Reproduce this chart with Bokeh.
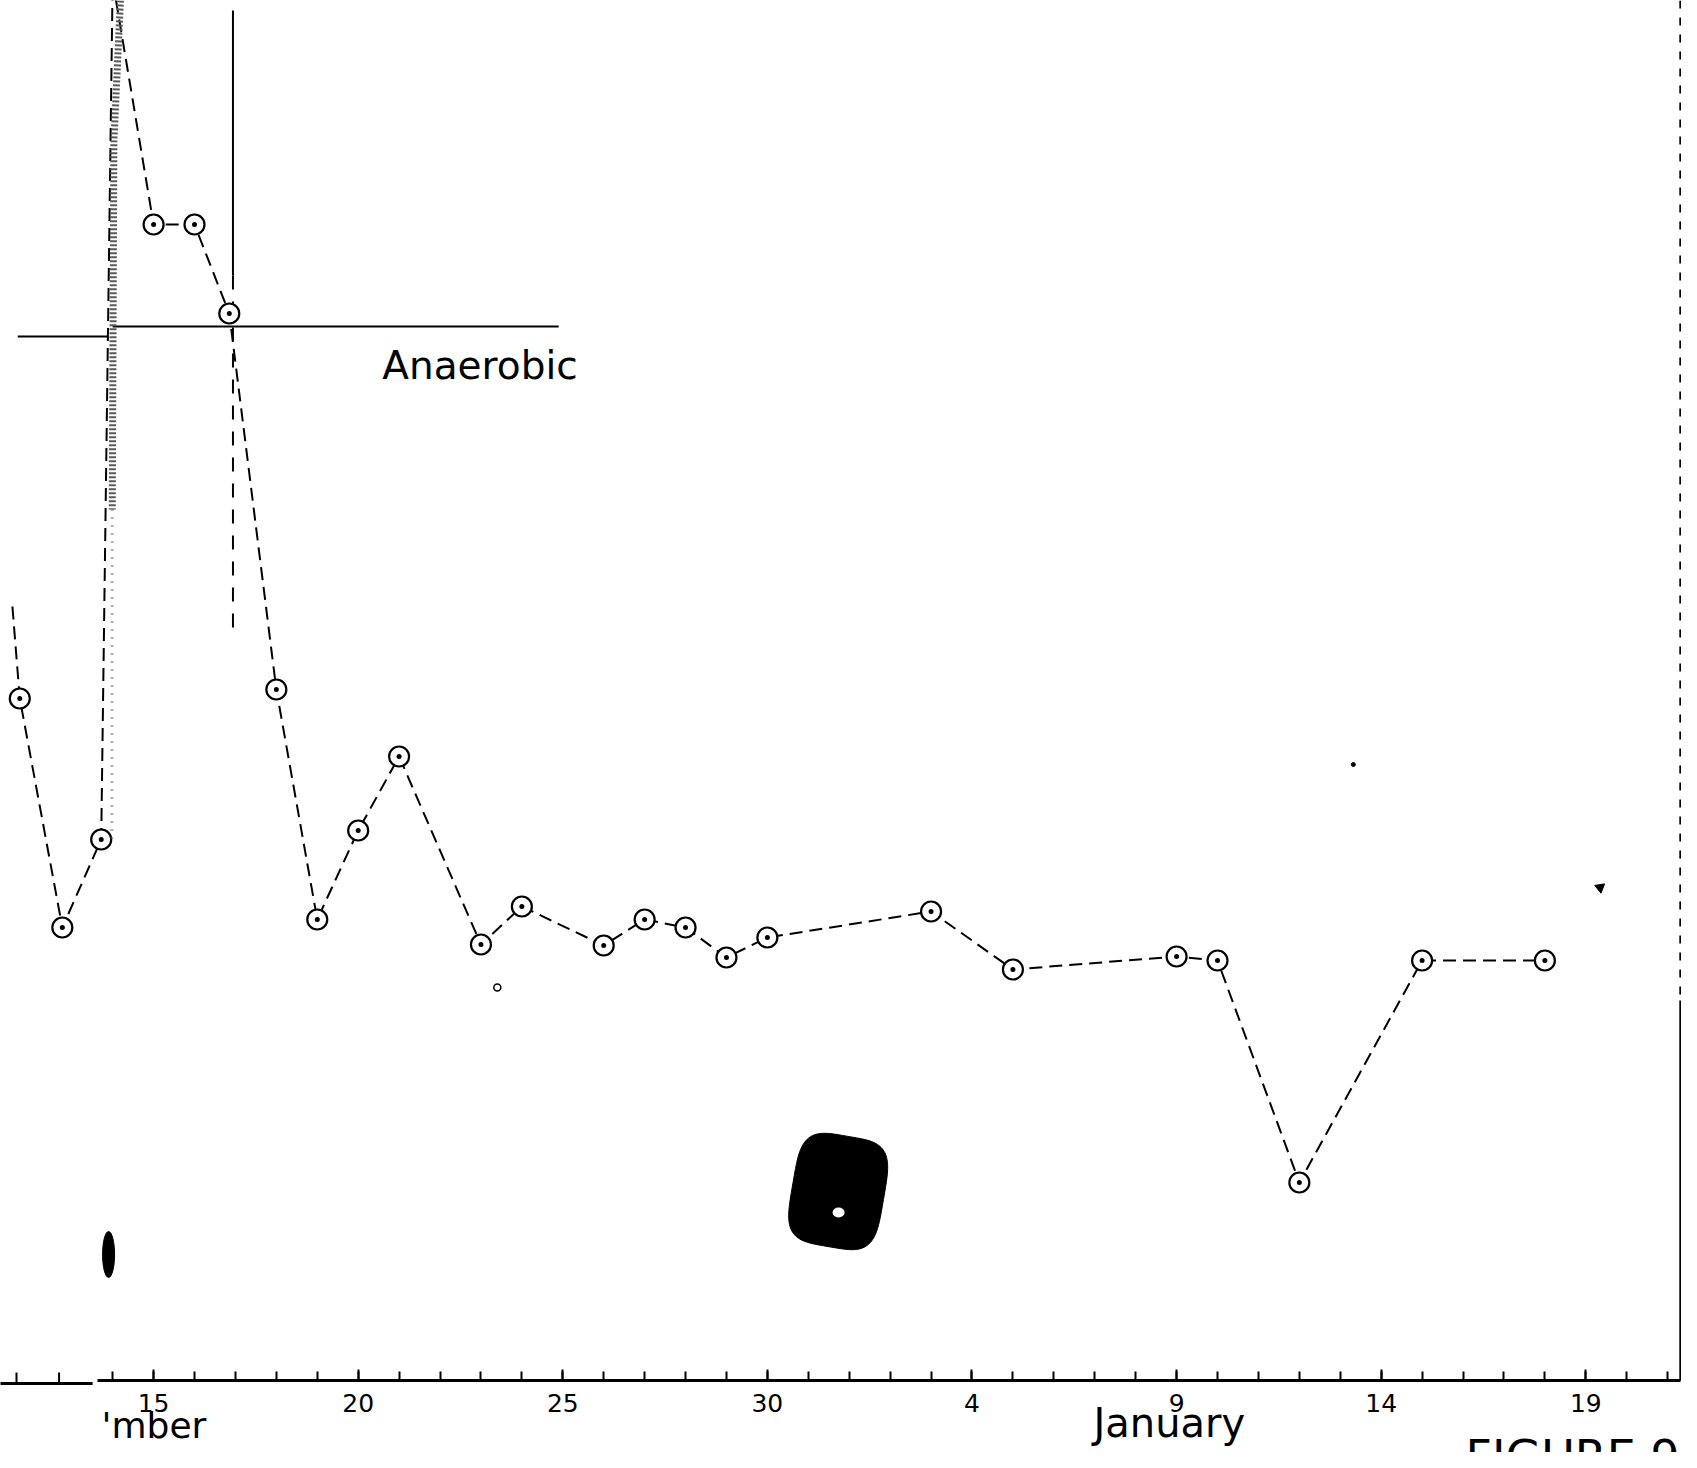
import numpy as np
from bokeh.plotting import figure
from bokeh.models import FixedTicker, Label, Range1d
from bokeh.embed import file_html
from bokeh.resources import INLINE

# ---- data (x: day index, Dec 15 = 15 ... Dec 31 = 31, Jan 1 = 32 ...) ----
series_day = [11.55, 11.73, 12.77, 13.72, 14.0, 15, 16, 16.85, 18, 19, 20, 21, 23, 24,
              26, 27, 28, 29, 30, 34, 36, 40, 41, 43, 46, 49]
series_val = [77.4, 68.2, 45.3, 54.1, 140.0, 115.6, 115.6, 106.7, 69.1, 46.1, 55.0, 62.4,
              43.6, 47.4, 43.5, 46.1, 45.3, 42.3, 44.3, 46.9, 41.1, 42.4, 42.0, 19.8, 42.0, 42.0]
marked = [i for i in range(len(series_day)) if i not in (0, 4)]

tick_days = [15, 20, 25, 30, 35, 40, 45, 50]
tick_labels = ["15", "20", "25", "30", "4", "9", "14", "19"]
minor_days = list(range(14, 53))

anaerobic_day = 16.94
anaerobic_level = [104.4, 105.4]

FONT = "DejaVu Sans"
X0, X1 = 11.259, 52.339
Y0, Y1 = -7.2, 138.0
PX_X = 1681 / (X1 - X0)
PX_Y = 1452 / (Y1 - Y0)

p = figure(width=1681, height=1452, x_range=Range1d(X0, X1), y_range=Range1d(Y0, Y1),
           output_backend="svg", toolbar_location=None, y_axis_location=None,
           min_border_left=0, min_border_right=0, min_border_top=0, min_border_bottom=0,
           outline_line_color=None)
p.grid.visible = False
p.background_fill_color = "white"
p.border_fill_color = "white"

ax = p.xaxis[0]
ax.fixed_location = 0
ax.ticker = FixedTicker(ticks=tick_days, minor_ticks=minor_days)
ax.major_label_overrides = {d: l for d, l in zip(tick_days, tick_labels)}
ax.bounds = (13.64, 52.32)
ax.axis_line_width = 3
ax.axis_line_color = "black"
ax.major_tick_in = 11
ax.major_tick_out = 0
ax.minor_tick_in = 9
ax.minor_tick_out = 0
ax.major_tick_line_width = 2
ax.minor_tick_line_width = 2
ax.major_label_text_font = FONT
ax.major_label_text_font_size = "25px"
ax.major_label_text_color = "black"
ax.major_label_standoff = 13

# left piece of the base line (separate strip)
p.segment(x0=[11.2], y0=[-0.3], x1=[13.51], y1=[-0.3], line_width=3, color="black")
p.segment(x0=[11.65, 12.69], y0=[-0.3, -0.3], x1=[11.65, 12.69], y1=[0.8, 0.8], line_width=2, color="black")

# right border line
p.segment(x0=[52.31], y0=[38], x1=[52.31], y1=[0], line_width=2, color="black")
p.segment(x0=[52.31], y0=[138], x1=[52.31], y1=[38], line_width=2, color="black", line_dash="8 9")

# anaerobic markers
p.segment(x0=[anaerobic_day], y0=[137], x1=[anaerobic_day], y1=[110.5], line_width=2, color="black")
p.segment(x0=[anaerobic_day], y0=[110.5], x1=[anaerobic_day], y1=[74.1], line_width=2,
          color="black", line_dash="14 12")
p.segment(x0=[11.68, 14.0], y0=anaerobic_level, x1=[13.87, 24.9], y1=anaerobic_level,
          line_width=2, color="black")

# series
p.line(series_day, series_val, line_dash="13 7", line_width=2, color="black")
p.scatter([series_day[i] for i in marked], [series_val[i] for i in marked],
          marker="circle_dot", size=20, fill_color="white", line_color="black", line_width=2.2)

# scanned strip edge
p.line([14.19, 14.03, 13.99], [138, 123.9, 87.1], line_width=7, color="#5a5a5a", line_dash="2 2")
p.line([13.99, 13.98], [87.1, 53.6], line_width=3, color="#666666", line_dash="1 7")

# ink blot (rounded, slightly tilted) and small specks on the sheet
t = np.linspace(0, 2 * np.pi, 120)
bx = 46 * np.sign(np.cos(t)) * np.abs(np.cos(t)) ** 0.5
by = 56 * np.sign(np.sin(t)) * np.abs(np.sin(t)) ** 0.5
th = -0.17
rx = bx * np.cos(th) - by * np.sin(th)
ry = bx * np.sin(th) + by * np.cos(th)
p.patch(31.73 + rx / PX_X, 18.9 + ry / PX_Y, fill_color="black", line_color="black")
p.ellipse(x=[31.74], y=[16.8], width=[12], height=[10], width_units="screen",
          height_units="screen", fill_color="white", line_color=None)
p.ellipse(x=[13.90], y=[12.6], width=[12], height=[46], width_units="screen",
          height_units="screen", fill_color="black", line_color="black")
p.scatter([23.4], [39.3], marker="circle", size=7, fill_color="white", line_color="black", line_width=1.5)
p.scatter([44.32], [61.6], marker="circle", size=4, color="black")
p.scatter([50.35], [49.3], marker="triangle", size=10, angle=1.2, color="black")

# texts
p.add_layout(Label(x=20.59, y=101.5, text="Anaerobic", text_font=FONT, text_font_size="39px",
                   text_color="black", text_baseline="alphabetic"))
p.add_layout(Label(x=13.73, y=-4.5, text="'mber", text_font=FONT, text_font_size="36px",
                   text_color="black", text_baseline="alphabetic"))
p.add_layout(Label(x=37.97, y=-4.2, text="January", text_font=FONT, text_font_size="40px",
                   text_color="black", text_baseline="alphabetic"))
p.add_layout(Label(x=47.06, y=-4.9, text="FIGURE 9", text_font=FONT, text_font_size="46px",
                   text_color="black", text_baseline="top"))

open("out.html", "w").write(file_html(p, INLINE))
